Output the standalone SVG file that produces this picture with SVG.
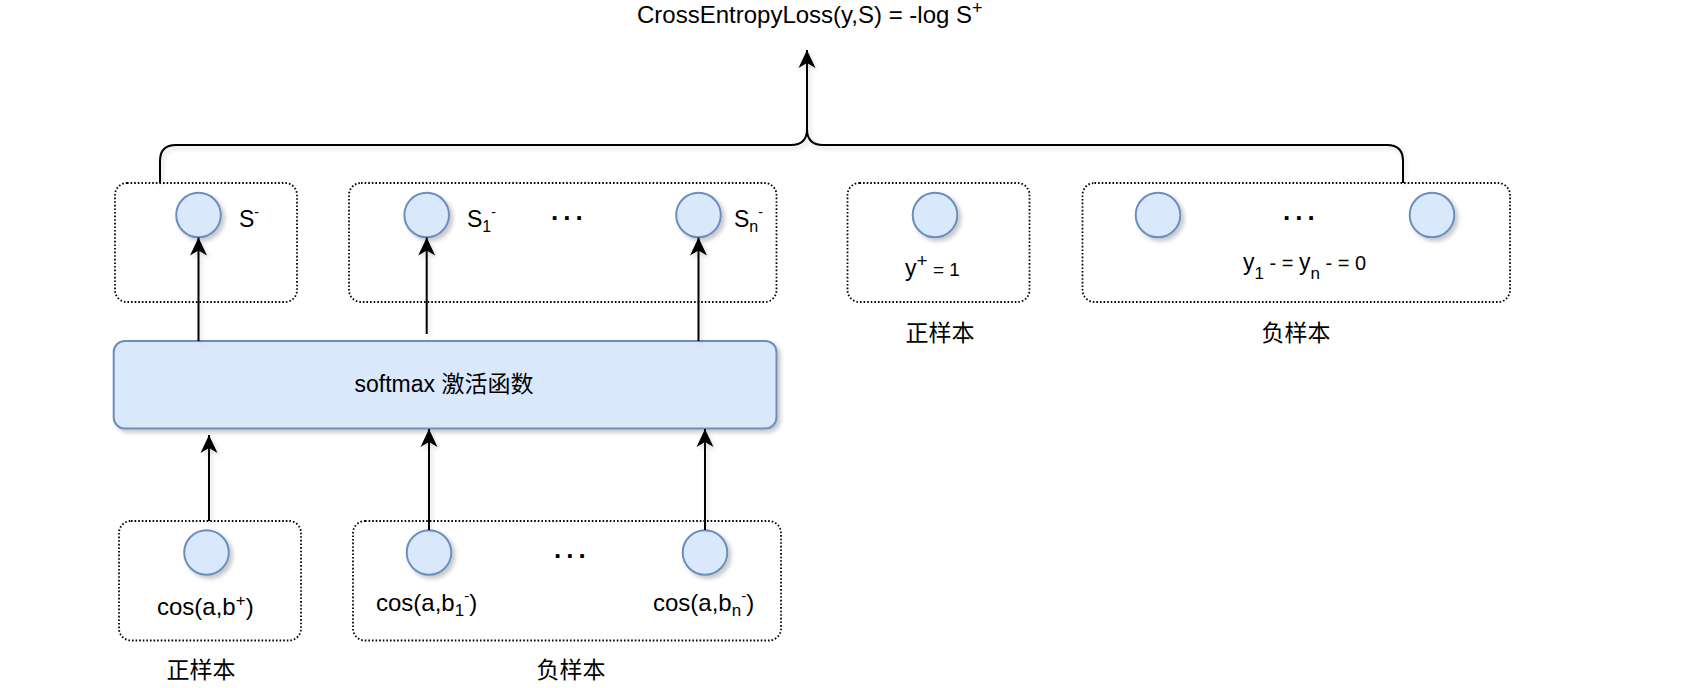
<svg xmlns="http://www.w3.org/2000/svg" width="1698" height="688" viewBox="0 0 1698 688">
<style>
  text { font-family: "Liberation Sans", Arial, "Noto Sans CJK SC", sans-serif; fill: #000; }
  .lbl { font-size: 23px; }
  .cos { font-size: 24px; }
  .title { font-size: 24px; }
  .grp { fill: none; stroke: #000; stroke-width: 1.8; stroke-dasharray: 1.6 2; }
  .dot { fill: #dae8fc; stroke: #6c8ebf; stroke-width: 2; filter: url(#sh); }
  .edge { fill: none; stroke: #000; stroke-width: 2; }
  .arr { marker-end: url(#ah); }
  .dots { font-size: 26px; font-weight: bold; letter-spacing: 5px; }
</style>
<defs>
  <filter id="sh" x="-30%" y="-30%" width="160%" height="160%">
    <feDropShadow dx="3" dy="3" stdDeviation="2" flood-color="#000" flood-opacity="0.22"/>
  </filter>
  <filter id="shl" x="-5%" y="-20%" width="110%" height="140%">
    <feDropShadow dx="2" dy="3" stdDeviation="2" flood-color="#000" flood-opacity="0.15"/>
  </filter>
  <marker id="ah" markerUnits="userSpaceOnUse" markerWidth="18" markerHeight="18" viewBox="0 0 18 18" refX="18" refY="9" orient="auto">
    <path d="M0,0.5 L18,9 L0,17.5 L5,9 Z" fill="#000"/>
  </marker>
</defs>

<rect width="1698" height="688" fill="#fff"/>

<g id="title">
  <text class="title" x="637" y="23">CrossEntropyLoss(y,S) = -log S<tspan font-size="18" dy="-9">+</tspan></text>
</g>

<!-- top row groups -->
<g id="top-pos-score">
  <rect class="grp" x="115" y="183" width="182" height="119" rx="12"/>
  <circle class="dot" cx="198.5" cy="215" r="22.3"/>
  <text class="lbl" x="239" y="227">S<tspan font-size="14" dy="-10">-</tspan></text>
</g>
<g id="top-neg-scores">
  <rect class="grp" x="349" y="183" width="427.5" height="119" rx="12"/>
  <circle class="dot" cx="426.7" cy="215" r="22.3"/>
  <text class="lbl" x="467" y="227">S<tspan font-size="16" dy="5">1</tspan><tspan font-size="14" dy="-15">-</tspan></text>
  <text class="dots" x="551" y="219.5">...</text>
  <circle class="dot" cx="698.5" cy="215" r="22.3"/>
  <text class="lbl" x="734" y="227">S<tspan font-size="16" dy="5">n</tspan><tspan font-size="14" dy="-15">-</tspan></text>
</g>
<g id="top-pos-label">
  <rect class="grp" x="847.5" y="183" width="182" height="119" rx="12"/>
  <circle class="dot" cx="935" cy="215" r="22.3"/>
  <text class="lbl" x="905" y="276">y<tspan font-size="19" dy="-9">+</tspan><tspan font-size="19" dy="9"> = 1</tspan></text>
  <text class="lbl" x="940" y="340.5" text-anchor="middle">正样本</text>
</g>
<g id="top-neg-labels">
  <rect class="grp" x="1082.5" y="183" width="427.5" height="119" rx="12"/>
  <circle class="dot" cx="1158" cy="215" r="22.3"/>
  <text class="dots" x="1283" y="219.5">...</text>
  <circle class="dot" cx="1432" cy="215" r="22.3"/>
  <text class="lbl" x="1243" y="270">y<tspan font-size="17" dy="9">1</tspan><tspan font-size="20" dy="-9"> - = </tspan>y<tspan font-size="17" dy="9">n</tspan><tspan font-size="20" dy="-9"> - = 0</tspan></text>
  <text class="lbl" x="1296" y="340.5" text-anchor="middle">负样本</text>
</g>

<g id="softmax">
  <rect x="113.7" y="341" width="662.8" height="87.5" rx="11" fill="#dae8fc" stroke="#6c8ebf" stroke-width="2" filter="url(#sh)"/>
  <text class="lbl" x="444" y="392" text-anchor="middle" font-size="23.5">softmax 激活函数</text>
</g>

<!-- bottom row groups -->
<g id="bottom-pos">
  <rect class="grp" x="119" y="521" width="182" height="119.5" rx="12"/>
  <circle class="dot" cx="206.5" cy="552.5" r="22.3"/>
  <text class="cos" x="157" y="615">cos(a,b<tspan font-size="17" dy="-9">+</tspan><tspan dy="9">)</tspan></text>
  <text class="lbl" x="201" y="678" text-anchor="middle">正样本</text>
</g>
<g id="bottom-neg">
  <rect class="grp" x="353" y="521" width="428" height="119.5" rx="12"/>
  <circle class="dot" cx="429" cy="552.5" r="22.3"/>
  <text class="cos" x="376" y="611">cos(a,b<tspan font-size="17" dy="5">1</tspan><tspan font-size="15" dy="-15">-</tspan><tspan dy="10">)</tspan></text>
  <text class="dots" x="554" y="557.5">...</text>
  <circle class="dot" cx="705" cy="552.5" r="22.3"/>
  <text class="cos" x="653" y="611">cos(a,b<tspan font-size="17" dy="5">n</tspan><tspan font-size="15" dy="-15">-</tspan><tspan dy="10">)</tspan></text>
  <text class="lbl" x="571" y="678" text-anchor="middle">负样本</text>
</g>

<g id="connectors" filter="url(#shl)">
  <path class="edge arr" d="M160,183 L160,161 Q160,145 176,145 L791,145 Q807,145 807,129 L807,50"/>
  <path class="edge" d="M1403,183 L1403,161 Q1403,145 1387,145 L823,145 Q807,145 807,129"/>
  <path class="edge arr" d="M198.5,341 L198.5,237.5"/>
  <path class="edge arr" d="M426.7,334 L426.7,237.5"/>
  <path class="edge arr" d="M698.5,341 L698.5,237.5"/>
  <path class="edge arr" d="M209,521 L209,435"/>
  <path class="edge arr" d="M429,530 L429,429"/>
  <path class="edge arr" d="M705,530 L705,429"/>
</g>
</svg>
